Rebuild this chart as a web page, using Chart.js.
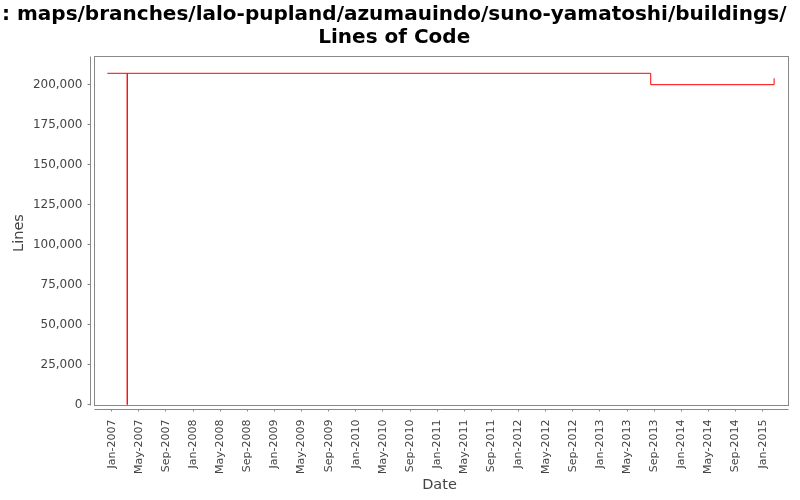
<!DOCTYPE html>
<html>
<head>
<meta charset="utf-8">
<title>Lines of Code</title>
<script src="https://cdn.jsdelivr.net/npm/chart.js@4.4.1/dist/chart.umd.min.js"></script>
<style>
  html, body { margin: 0; padding: 0; background: #fff; }
  #chart { display: block; }
</style>
</head>
<body>
<canvas id="chart" width="800" height="500"></canvas>
<script>
// Step points of the series (dates)
const pointDates = ["2006-12-12", "2007-03-10", "2007-03-10", "2013-08-16", "2015-02-22"];
const lineCounts = [207000, 0, 207000, 199900, 203900];

const xTickLabels = [
  "Jan-2007", "May-2007", "Sep-2007", "Jan-2008", "May-2008", "Sep-2008",
  "Jan-2009", "May-2009", "Sep-2009", "Jan-2010", "May-2010", "Sep-2010",
  "Jan-2011", "May-2011", "Sep-2011", "Jan-2012", "May-2012", "Sep-2012",
  "Jan-2013", "May-2013", "Sep-2013", "Jan-2014", "May-2014", "Sep-2014",
  "Jan-2015",
];
const yTickValues = [0, 25000, 50000, 75000, 100000, 125000, 150000, 175000, 200000];

const MONTHS = ["Jan", "Feb", "Mar", "Apr", "May", "Jun", "Jul", "Aug", "Sep", "Oct", "Nov", "Dec"];

// months since Jan 2007, used as the linear x value
const dateToMonths = (iso) => {
  const [y, m, d] = iso.split("-").map(Number);
  return (y - 2007) * 12 + (m - 1) + (d - 1) / 30.5;
};
const labelToMonths = (label) => {
  const [mon, year] = label.split("-");
  return (Number(year) - 2007) * 12 + MONTHS.indexOf(mon);
};

const points = pointDates.map((d, i) => ({ x: dateToMonths(d), y: lineCounts[i] }));
const xTickValues = xTickLabels.map(labelToMonths);

Chart.defaults.font.family = "'DejaVu Sans', sans-serif";

// JFreeChart style frame: plot outline plus axis lines set a few px off it
const plotFrame = {
  id: "plotFrame",
  afterDraw(chart) {
    const { ctx, chartArea: a } = chart;
    ctx.save();
    ctx.strokeStyle = "#888888";
    ctx.lineWidth = 1;
    ctx.strokeRect(a.left + 4, a.top, a.right - a.left - 4, a.bottom - a.top - 4);
    ctx.beginPath();
    ctx.moveTo(a.left, a.top);
    ctx.lineTo(a.left, a.bottom - 4);
    ctx.moveTo(a.left + 4, a.bottom);
    ctx.lineTo(a.right, a.bottom);
    ctx.stroke();
    ctx.restore();
  },
};

new Chart(document.getElementById("chart"), {
  type: "line",
  data: {
    datasets: [
      {
        label: "Lines",
        data: points,
        borderColor: "#ff0000",
        borderWidth: 1,
        pointRadius: 0,
        stepped: true,
        fill: false,
      },
    ],
  },
  options: {
    responsive: false,
    animation: false,
    devicePixelRatio: 1,
    layout: { padding: { left: 0, right: 11.5, top: 0, bottom: 0 } },
    plugins: {
      legend: { display: false },
      tooltip: { enabled: false },
      title: {
        display: true,
        text: [": maps/branches/lalo-pupland/azumauindo/suno-yamatoshi/buildings/", "Lines of Code"],
        color: "#000000",
        font: { size: 20, weight: "bold", lineHeight: 23 / 20 },
        padding: { top: 3.5, bottom: 7 },
      },
    },
    scales: {
      x: {
        type: "linear",
        min: -3.126,
        max: 99.81,
        afterFit: (scale) => { scale.height = 90.5; },
        afterBuildTicks: (scale) => {
          scale.ticks = xTickValues.map((v) => ({ value: v }));
        },
        ticks: {
          autoSkip: false,
          minRotation: 90,
          maxRotation: 90,
          padding: 8,
          color: "#444444",
          font: { size: 11 },
          callback: (value, index) => xTickLabels[index],
        },
        grid: { drawOnChartArea: false, drawTicks: true, tickLength: 2, color: "#888888" },
        border: { display: false },
        title: {
          display: true,
          text: "Date",
          color: "#444444",
          font: { size: 14.5 },
          padding: { top: 0, bottom: 6.3 },
        },
      },
      y: {
        type: "linear",
        min: -3000,
        max: 217500,
        afterFit: (scale) => { scale.width = 90.5; },
        afterBuildTicks: (scale) => {
          scale.ticks = yTickValues.map((v) => ({ value: v }));
        },
        ticks: {
          padding: 5,
          color: "#444444",
          font: { size: 12 },
          callback: (value) => value.toLocaleString("en-US"),
        },
        grid: { drawOnChartArea: false, drawTicks: true, tickLength: 3, color: "#888888" },
        border: { display: false },
        title: {
          display: true,
          text: "Lines",
          color: "#444444",
          font: { size: 14.5 },
          padding: { top: 10.3, bottom: 0 },
        },
      },
    },
  },
  plugins: [plotFrame],
});
</script>
</body>
</html>
